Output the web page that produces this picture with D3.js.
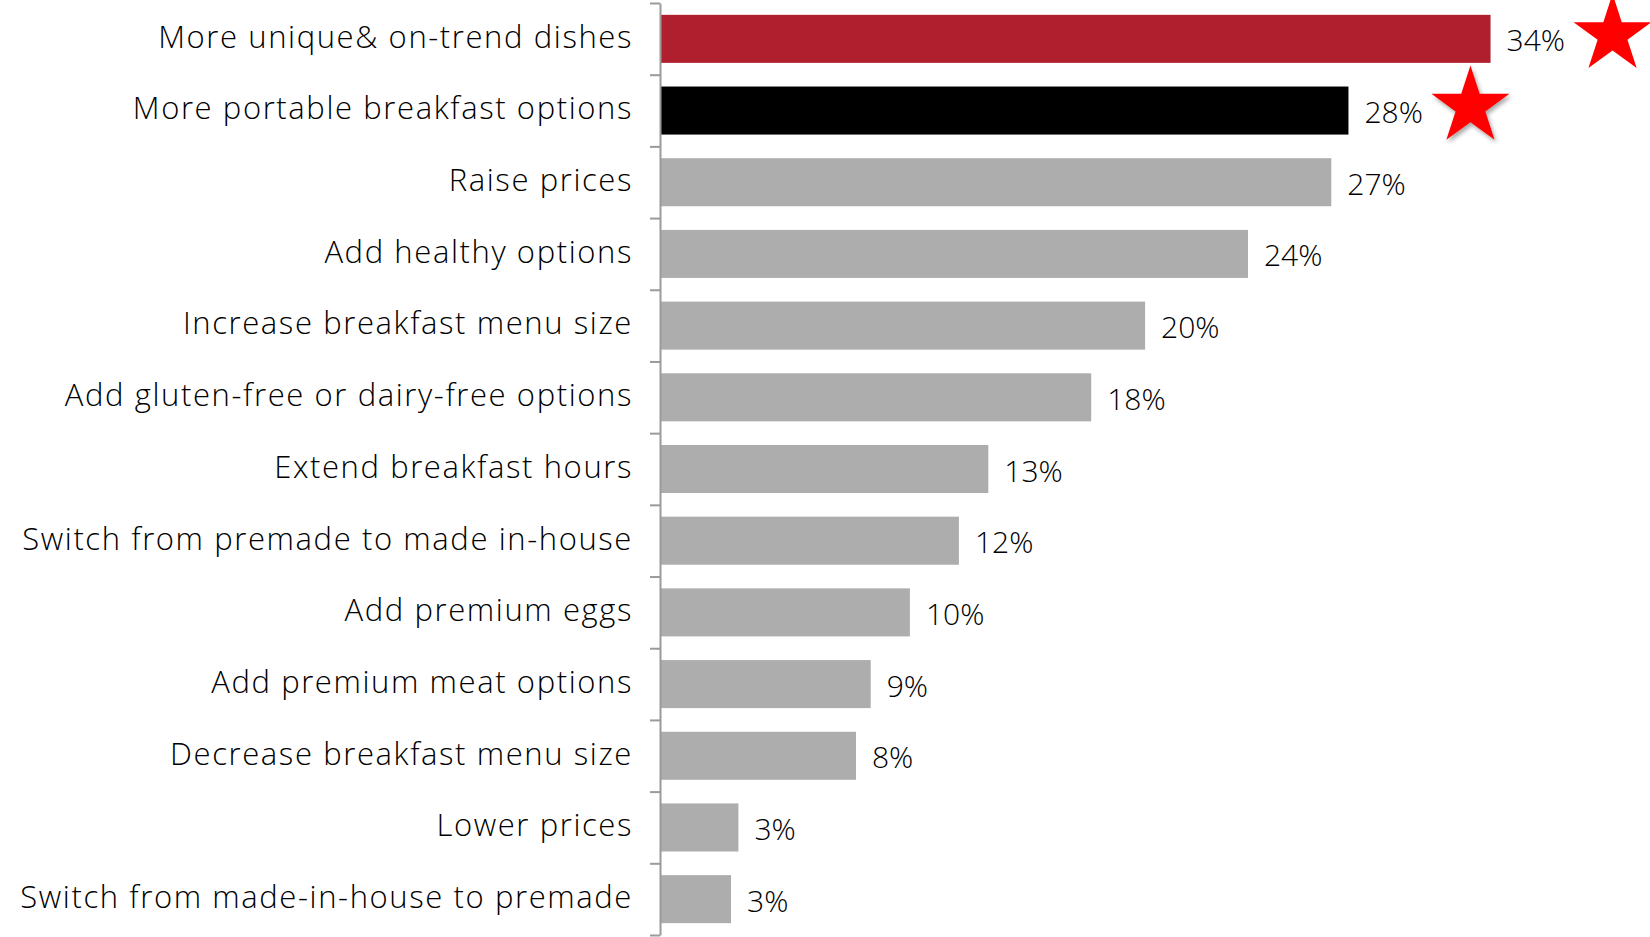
<!DOCTYPE html>
<html>
<head>
<meta charset="utf-8">
<script src="https://cdn.jsdelivr.net/npm/d3@7"></script>
<style>
    body { margin: 0; background: #fff; }
    text { font-family: "Open Sans", Lato, sans-serif; font-weight: 300; fill: #000; }
</style>
</head>
<body>
<div id="viz"></div>
<script>
let width = 1650, height = 937;

let categories = [
    'More unique& on-trend dishes',
    'More portable breakfast options',
    'Raise prices',
    'Add healthy options',
    'Increase breakfast menu size',
    'Add gluten-free or dairy-free options',
    'Extend breakfast hours',
    'Switch from premade to made in-house',
    'Add premium eggs',
    'Add premium meat options',
    'Decrease breakfast menu size',
    'Lower prices',
    'Switch from made-in-house to premade'
];
// label shows rounded value
let values = [33.9, 28.1, 27.4, 24.0, 19.8, 17.6, 13.4, 12.2, 10.2, 8.6, 8.0, 3.2, 2.9];
let colors = ['#b01f2e', '#000000'];   // first two highlighted, rest grey
let starred = [0, 1];

let svg = d3.select('#viz').append('svg')
    .attr('width', width)
    .attr('height', height);

let defs = svg.append('defs');
let f = defs.append('filter').attr('id', 'shadow').attr('x', '-30%').attr('y', '-30%').attr('width', '160%').attr('height', '160%');
f.append('feDropShadow').attr('dx', 2).attr('dy', 3).attr('stdDeviation', 2).attr('flood-color', '#000').attr('flood-opacity', 0.35);

let x = d3.scaleLinear().domain([0, 40]).range([660, 1640]);
let y = d3.scaleBand().domain(categories).range([3, 935]).paddingInner(0.33).paddingOuter(0.165);
let yIdx = d3.scaleLinear().domain([0, categories.length]).range([3, 935]);

// bars
svg.selectAll('.bar')
    .data(categories)
    .enter()
    .append('rect')
    .attr('class', 'bar')
    .attr('x', x(0))
    .attr('y', d => y(d))
    .attr('width', (d, i) => x(values[i]) - x(0))
    .attr('height', y.bandwidth())
    .attr('fill', (d, i) => colors[i] || '#adadad');

// axis with ticks at band edges
let axis = svg.append('g')
    .attr('transform', 'translate(' + x(0) + ',0)')
    .call(d3.axisLeft(yIdx).tickValues(d3.range(categories.length + 1)).tickSize(10).tickSizeOuter(0).tickFormat(''));
axis.selectAll('path, line').attr('stroke', '#9a9a9a').attr('stroke-width', 2);

// category labels
svg.selectAll('.cat')
    .data(categories)
    .enter()
    .append('text')
    .attr('class', 'cat')
    .attr('x', 633)
    .attr('y', d => y(d) + y.bandwidth() / 2 - 2)
    .attr('dy', '0.35em')
    .attr('text-anchor', 'end')
    .style('font-size', '31px')
    .style('letter-spacing', '1.6px')
    .text(d => d);

// value labels
svg.selectAll('.val')
    .data(categories)
    .enter()
    .append('text')
    .attr('class', 'val')
    .attr('x', (d, i) => x(values[i]) + 16)
    .attr('y', d => y(d) + y.bandwidth() / 2 + 2)
    .attr('dy', '0.35em')
    .style('font-size', '30px')
    .text((d, i) => Math.round(values[i]) + '%');

// stars
let star = d3.symbol().type(d3.symbolStar).size(1890);
svg.selectAll('.star')
    .data(starred)
    .enter()
    .append('path')
    .attr('class', 'star')
    .attr('d', star)
    .attr('fill', '#ff0000')
    .attr('filter', i => i === 1 ? 'url(#shadow)' : null)
    .attr('transform', i => 'translate(' + (x(values[i]) + 122) + ',' + (y(categories[i]) + y.bandwidth() / 2 - 4) + ')');
</script>
</body>
</html>
